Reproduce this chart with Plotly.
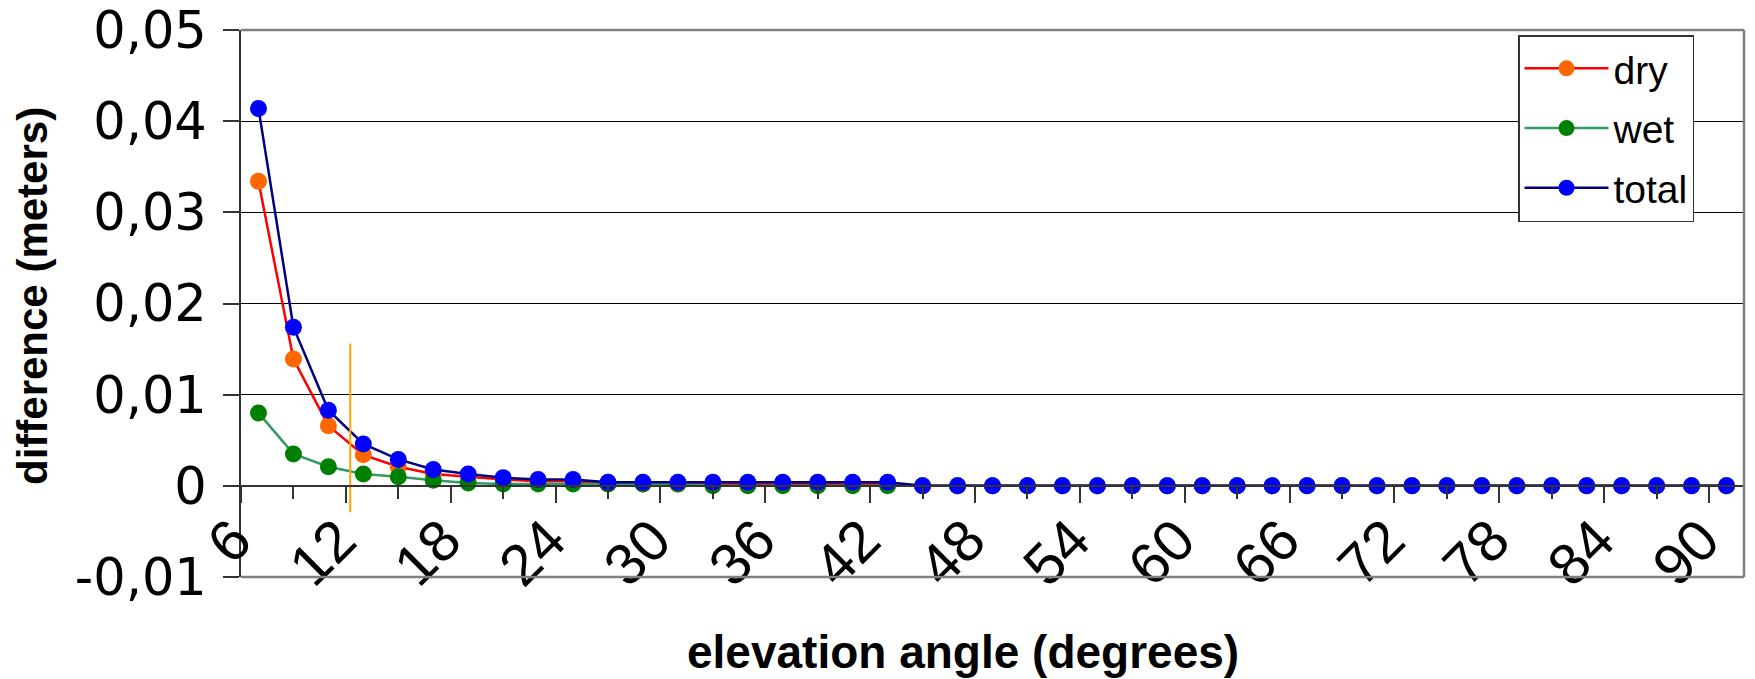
import plotly.graph_objects as go

# ---- data ----
elevation_deg = [7, 9, 11, 13, 15, 17, 19, 21, 23, 25,
                 27, 29, 31, 33, 35, 37, 39, 41, 43,
                 45, 47, 49, 51, 53, 55, 57, 59, 61, 63, 65, 67,
                 69, 71, 73, 75, 77, 79, 81, 83, 85, 87, 89, 91]

dry = [0.0334, 0.0139, 0.0066, 0.0034, 0.0021, 0.0013, 0.0010, 0.0007, 0.0005, 0.0005,
       0.0002, 0.0002, 0.0002, 0.0002, 0.0002, 0.0002, 0.0002, 0.0002, 0.0002,
       0.0, 0.0, 0.0, 0.0, 0.0, 0.0, 0.0, 0.0, 0.0, 0.0, 0.0, 0.0,
       0.0, 0.0, 0.0, 0.0, 0.0, 0.0, 0.0, 0.0, 0.0, 0.0, 0.0, 0.0]

wet = [0.0080, 0.0035, 0.0021, 0.0013, 0.0010, 0.0006, 0.0003, 0.0002, 0.0002, 0.0002,
       0.0002, 0.0002, 0.0002, 0.0, 0.0, 0.0, 0.0, 0.0, 0.0,
       0.0, 0.0, 0.0, 0.0, 0.0, 0.0, 0.0, 0.0, 0.0, 0.0, 0.0, 0.0,
       0.0, 0.0, 0.0, 0.0, 0.0, 0.0, 0.0, 0.0, 0.0, 0.0, 0.0, 0.0]

total = [0.0414, 0.0174, 0.0083, 0.0046, 0.0029, 0.0018, 0.0013, 0.0009, 0.0007, 0.0007,
         0.0004, 0.0004, 0.0004, 0.0004, 0.0004, 0.0004, 0.0004, 0.0004, 0.0004,
         0.0, 0.0, 0.0, 0.0, 0.0, 0.0, 0.0, 0.0, 0.0, 0.0, 0.0, 0.0,
         0.0, 0.0, 0.0, 0.0, 0.0, 0.0, 0.0, 0.0, 0.0, 0.0, 0.0, 0.0]

y_tick_values = [-0.01, 0.0, 0.01, 0.02, 0.03, 0.04, 0.05]
y_tick_labels = ["-0,01", "0", "0,01", "0,02", "0,03", "0,04", "0,05"]
x_tick_values = [6, 12, 18, 24, 30, 36, 42, 48, 54, 60, 66, 72, 78, 84, 90]
x_tick_labels = ["6", "12", "18", "24", "30", "36", "42", "48", "54", "60", "66", "72", "78", "84", "90"]

# hand-drawn orange marker line in the original
marker_line_x = [12.25, 12.25]
marker_line_y = [-0.0029, 0.0156]

x_range = [6, 92]
y_range = [-0.01, 0.05]

FONT = "Liberation Sans, Arial, sans-serif"

# plot-area box in pixels
L, R, T, B = 241, 1744, 30, 577
W, H = 1755, 679
PW, PH = R - L, B - T

fig = go.Figure()

series = [
    ("dry", dry, "#FF0000", "#FF6600"),
    ("wet", wet, "#339966", "#008000"),
    ("total", total, "#000080", "#0000FF"),
]
for name, vals, lcol, mcol in series:
    fig.add_trace(go.Scatter(
        x=elevation_deg, y=vals, name=name, mode="lines+markers",
        line=dict(color=lcol, width=2.5),
        marker=dict(color=mcol, size=17),
        legendgroup=name,
        cliponaxis=False,
    ))

fig.add_trace(go.Scatter(
    x=marker_line_x, y=marker_line_y, mode="lines",
    line=dict(color="#FFA500", width=2), showlegend=False, hoverinfo="skip",
))

zero_pos = (0 - y_range[0]) / (y_range[1] - y_range[0])

fig.update_layout(
    width=W, height=H,
    margin=dict(l=L, r=W - R, t=T, b=H - B, autoexpand=False),
    paper_bgcolor="white", plot_bgcolor="white",
    font=dict(family=FONT, color="black"),
    showlegend=True,
    legend=dict(
        x=(1518 - L) / PW, y=(B - 35) / PH, xanchor="left", yanchor="top",
        bordercolor="#333333", borderwidth=1.5, bgcolor="white",
        font=dict(size=39, family=FONT), tracegroupgap=6, itemwidth=84,
    ),
    xaxis=dict(
        range=x_range, anchor="free", position=zero_pos, automargin=False,
        tickmode="array", tickvals=x_tick_values, ticktext=x_tick_labels,
        tickangle=-45, tickfont=dict(size=58, family=FONT),
        ticklabelshift=-7, ticklabelstandoff=-20,
        ticks="outside", ticklen=16, tickcolor="#333333", tickwidth=1.5,
        minor=dict(tickmode="linear", tick0=6, dtick=3, ticks="outside", ticklen=12,
                   tickcolor="#333333", tickwidth=1.5, showgrid=False),
        showline=True, linecolor="#333333", linewidth=1.5,
        showgrid=False, zeroline=False,
    ),
    yaxis=dict(
        range=y_range, domain=[0, 1], automargin=False,
        tickmode="array", tickvals=y_tick_values, ticktext=y_tick_labels,
        tickfont=dict(size=51, family="DejaVu Sans, Liberation Sans, sans-serif"),
        ticklabelstandoff=6,
        ticks="outside", ticklen=16, tickcolor="#333333", tickwidth=1.5,
        showline=True, linecolor="#333333", linewidth=2,
        showgrid=True, gridcolor="black", gridwidth=1,
        zeroline=False,
    ),
    annotations=[
        dict(text="<b>difference (meters)</b>", xref="paper", yref="paper",
             x=(32 - L) / PW, y=(B - 296) / PH, textangle=-90,
             xanchor="center", yanchor="middle", showarrow=False,
             font=dict(size=42, family=FONT)),
        dict(text="<b>elevation angle (degrees)</b>", xref="paper", yref="paper",
             x=(963 - L) / PW, y=(B - 652) / PH,
             xanchor="center", yanchor="middle", showarrow=False,
             font=dict(size=46, family=FONT)),
    ],
    shapes=[
        dict(type="line", xref="x domain", yref="y domain", x0=0, x1=1, y0=1, y1=1,
             line=dict(color="#808080", width=2.5)),
        dict(type="line", xref="x domain", yref="y domain", x0=1, x1=1, y0=0, y1=1,
             line=dict(color="#808080", width=2.5)),
        dict(type="line", xref="x domain", yref="y domain", x0=0, x1=1, y0=0, y1=0,
             line=dict(color="#808080", width=2.5)),
    ],
)

fig.write_html("out.html", config={"displayModeBar": False},
               post_script="document.body.style.margin='0';document.body.style.overflow='hidden';")
